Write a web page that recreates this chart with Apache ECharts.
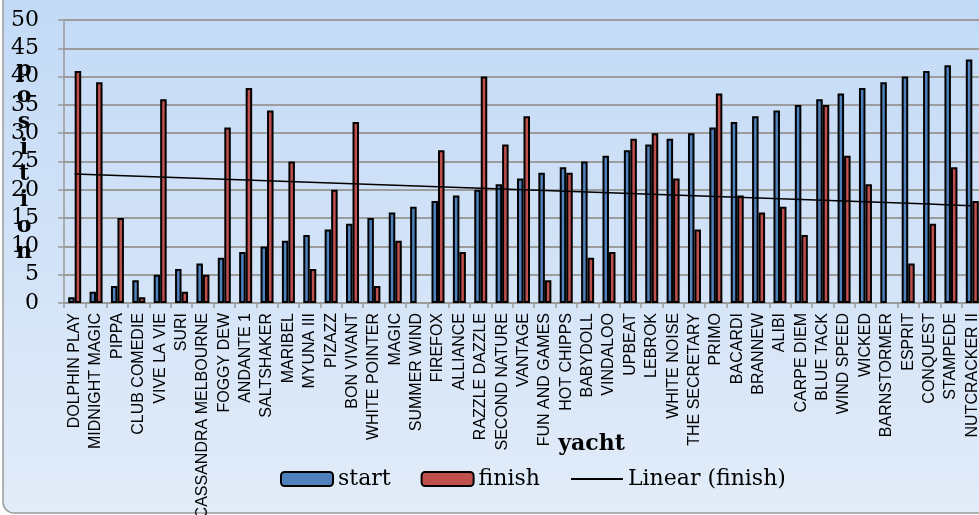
<!DOCTYPE html>
<html>
<head>
<meta charset="utf-8">
<script src="https://cdn.jsdelivr.net/npm/echarts@6/dist/echarts.min.js"></script>
<style>
html,body{margin:0;padding:0;background:#ffffff;}
#chart{width:979px;height:515px;}
</style>
</head>
<body>
<div id="chart"></div>
<script>
const categories = ["DOLPHIN PLAY","MIDNIGHT MAGIC","PIPPA","CLUB COMEDIE","VIVE LA VIE","SURI","CASSANDRA MELBOURNE","FOGGY DEW","ANDANTE 1","SALTSHAKER","MARIBEL","MYUNA III","PIZAZZ","BON VIVANT","WHITE POINTER","MAGIC","SUMMER WIND","FIREFOX","ALLIANCE","RAZZLE DAZZLE","SECOND NATURE","VANTAGE","FUN AND GAMES","HOT CHIPPS","BABYDOLL","VINDALOO","UPBEAT","LEBROK","WHITE NOISE","THE SECRETARY","PRIMO","BACARDI","BRANNEW","ALIBI","CARPE DIEM","BLUE TACK","WIND SPEED","WICKED","BARNSTORMER","ESPRIT","CONQUEST","STAMPEDE","NUTCRACKER II"];
const startValues = [1,2,3,4,5,6,7,8,9,10,11,12,13,14,15,16,17,18,19,20,21,22,23,24,25,26,27,28,29,30,31,32,33,34,35,36,37,38,39,40,41,42,43];
const finishValues = [41,39,15,1,36,2,5,31,38,34,25,6,20,32,3,11,null,27,9,40,28,33,4,23,8,9,29,30,22,13,37,19,16,17,12,35,26,21,null,7,14,24,18];
const yAxisTitle = "position";
const xAxisTitle = "yacht";

// Linear trendline of finish (least squares over x = 1..n; blank cells count as 0, as in the source spreadsheet)
function linearTrend(vals){
  let n=0,sx=0,sy=0,sxx=0,sxy=0;
  vals.forEach((v,i)=>{ const y=(v==null?0:v); const x=i+1; n++; sx+=x; sy+=y; sxx+=x*x; sxy+=x*y; });
  const b=(n*sxy-sx*sy)/(n*sxx-sx*sx);
  const a=(sy-b*sx)/n;
  return vals.map((_,i)=>a+b*(i+1));
}
const trendValues = linearTrend(finishValues);

const serif = "DejaVu Serif";
const chart = echarts.init(document.getElementById('chart'), null, {renderer:'canvas'});
chart.setOption({
  animation:false,
  backgroundColor:'#ffffff',
  graphic:[{
    type:'rect', z:-100, silent:true,
    shape:{x:3,y:-30,width:1010,height:543,r:11},
    style:{
      fill:{type:'linear',x:0,y:0,x2:0,y2:1,colorStops:[{offset:0,color:'#bcd6f5'},{offset:0.06,color:'#c3daf6'},{offset:1,color:'#e2ecf9'}]},
      stroke:'#9a9a9a', lineWidth:1.5
    }
  }],
  legend:{
    left:280, top:468, padding:0,
    itemWidth:52, itemHeight:14, itemGap:30,
    textStyle:{fontFamily:serif,fontSize:22,color:'#000'},
    data:[{name:'start'},{name:'finish'},{name:'Linear (finish)',itemStyle:{opacity:0}}]
  },
  grid:{left:64, top:20, width:919, height:283, containLabel:false, outerBoundsMode:'none'},
  xAxis:{
    type:'category',
    data:categories,
    name:xAxisTitle,
    nameLocation:'middle',
    nameGap:130,
    nameMoveOverlap:false,
    nameTextStyle:{fontFamily:serif,fontSize:22,fontWeight:'bold',color:'#000',padding:[0,0,0,136]},
    axisLine:{lineStyle:{color:'#9a9a9a',width:1.5}},
    axisTick:{show:true,length:5,lineStyle:{color:'#9a9a9a',width:1.5}},
    axisLabel:{rotate:90,interval:0,margin:10,fontFamily:'Liberation Sans',fontSize:16,color:'#000'}
  },
  yAxis:{
    type:'value',
    min:0,max:50,interval:5,
    name:yAxisTitle.split('').join('\n'),
    nameLocation:'middle',
    nameRotate:0,
    nameGap:40,
    nameMoveOverlap:false,
    nameTextStyle:{fontFamily:serif,fontSize:22,fontWeight:'bold',color:'#000',lineHeight:26,align:'center',verticalAlign:'middle'},
    axisLine:{show:true,lineStyle:{color:'#9a9a9a',width:1.5}},
    axisTick:{show:true,length:6,lineStyle:{color:'#9a9a9a',width:1.5}},
    axisLabel:{margin:25,fontFamily:serif,fontSize:22,color:'#000'},
    splitLine:{show:true,lineStyle:{color:'#9c9c9c',width:2}}
  },
  series:[
    {name:'start',type:'bar',data:startValues,barWidth:6.5,barGap:'0%',
     itemStyle:{color:'#4f81bd',borderColor:'#000',borderWidth:2}},
    {name:'finish',type:'bar',data:finishValues,barWidth:6.5,barGap:'0%',
     itemStyle:{color:'#c0504d',borderColor:'#000',borderWidth:2}},
    {name:'Linear (finish)',type:'line',data:trendValues,symbol:'none',showSymbol:false,
     lineStyle:{color:'#000',width:1.5},itemStyle:{color:'#000'},z:5}
  ]
});
</script>
</body>
</html>
